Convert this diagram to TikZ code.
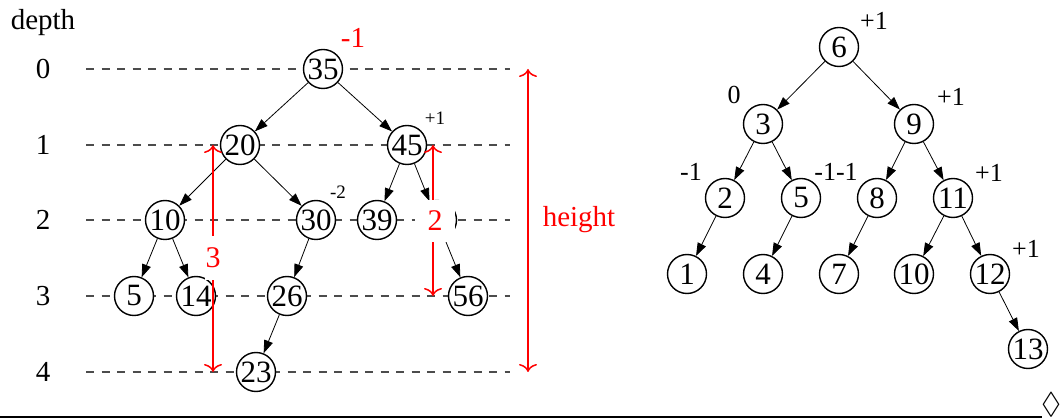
\documentclass[tikz,border=0pt]{standalone}
\usepackage{fontspec}
\setmainfont{Liberation Serif}
\usepackage{amssymb}
\usetikzlibrary{arrows.meta}
\tikzset{
  nd/.style={circle, draw, line width=1.4pt, fill=white, minimum size=39pt, inner sep=0pt, font=\fontsize{31}{31}\selectfont},
  ed/.style={-{Triangle[length=13pt,width=9pt]}, line width=0.8pt},
  dl/.style={dash pattern=on 8pt off 7.5pt, line width=1.3pt, black!70},
  ra/.style={red, line width=1.5pt, {To[length=8pt,width=18pt]}-{To[length=8pt,width=18pt]}},
  rlab/.style={red, fill=white, inner sep=0pt, font=\fontsize{30}{30}\selectfont},
  big/.style={font=\fontsize{29}{29}\selectfont, inner sep=0pt},
  mid/.style={font=\fontsize{26}{26}\selectfont, inner sep=0pt},
  small/.style={font=\fontsize{19}{19}\selectfont, inner sep=0pt},
}
\begin{document}
\begin{tikzpicture}[x=1pt,y=-1pt]
\useasboundingbox (0,0) rectangle (1061,419);
% depth labels
\node[big] (depth) at (43,23) {depth};
\foreach \d/\y in {0/69,1/145,2/220,3/296,4/372}{
  \node[big] (dep\d) at (43,\y) {\d};
  \coordinate (dla\d) at (86,\y);
  \coordinate (dlb\d) at (510,\y);
  \draw[dl] (dla\d) -- (dlb\d);
}
% left tree nodes
\node[nd] (n35) at (323,69) {35};
\node[nd] (n20) at (240,145) {20};
\node[nd] (n45) at (407,145) {45};
\node[nd] (n10) at (165,220) {10};
\node[nd] (n30) at (316,220) {30};
\node[nd] (n39) at (377,220) {39};
\node[nd] (nh) at (437,220) {};
\node[nd] (n5) at (134,296) {5};
\node[nd] (n14) at (196,296) {14};
\node[nd] (n26) at (287,296) {26};
\node[nd] (n56) at (468,296) {56};
\node[nd] (n23) at (256,372) {23};
\foreach \a/\b in {n35/n20,n35/n45,n20/n10,n20/n30,n45/n39,n45/nh,n10/n5,n10/n14,n30/n26,nh/n56,n26/n23}
  \draw[ed] (\a) -- (\b);
% red measurement arrows
\coordinate (h3a) at (213,145);
\coordinate (h3b) at (213,372);
\coordinate (h2a) at (433,145);
\coordinate (h2b) at (433,296);
\coordinate (hha) at (528,69);
\coordinate (hhb) at (528,372);
\draw[ra] (h3a) -- (h3b);
\draw[ra] (h2a) -- (h2b);
\draw[ra] (hha) -- (hhb);
\node[rlab, minimum width=16pt, minimum height=44pt] (l3) at (213,258) {3};
\node[rlab, minimum width=40pt, minimum height=42pt] (l2) at (435,221) {2};
\node[big, red] (lh) at (579,220) {height};
\node[big, red] (lm1) at (353,38) {-1};
\node[small] (lp1) at (435,118) {+1};
\node[small] (lm2) at (338,192) {-2};
% right tree
\node[nd] (r6) at (839,47) {6};
\node[nd] (r3) at (763,124) {3};
\node[nd] (r9) at (914,124) {9};
\node[nd] (r2) at (725,198) {2};
\node[nd] (r5) at (801,198) {5};
\node[nd] (r8) at (877,198) {8};
\node[nd] (r11) at (953,198) {11};
\node[nd] (r1) at (687,274) {1};
\node[nd] (r4) at (763,274) {4};
\node[nd] (r7) at (839,274) {7};
\node[nd] (r10) at (914,274) {10};
\node[nd] (r12) at (990,274) {12};
\node[nd] (r13) at (1028,349) {13};
\foreach \a/\b in {r6/r3,r6/r9,r3/r2,r3/r5,r9/r8,r9/r11,r2/r1,r5/r4,r8/r7,r11/r10,r11/r12,r12/r13}
  \draw[ed] (\a) -- (\b);
\node[mid] (b6) at (874,21) {+1};
\node[mid] (b3) at (734,95) {0};
\node[mid] (b9) at (951,97) {+1};
\node[mid] (b2) at (691,172) {-1};
\node[mid] (b5) at (836,172) {-1-1};
\node[mid] (b11) at (989,173) {+1};
\node[mid] (b12) at (1026,249) {+1};
% bottom rule and end mark
\coordinate (ra) at (0,417);
\coordinate (rb) at (1042,417);
\draw[line width=1.6pt] (ra) -- (rb);
\node[font=\fontsize{30}{30}\selectfont, inner sep=0pt] (qed) at (1051,405) {$\Diamond$};
\end{tikzpicture}
\end{document}
